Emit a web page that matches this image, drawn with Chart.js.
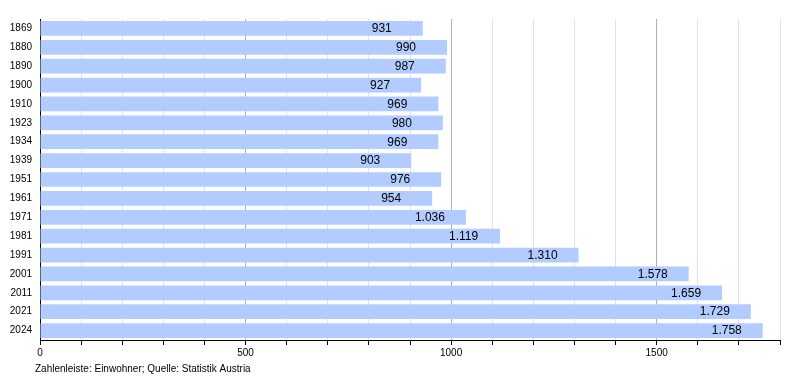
<!DOCTYPE html>
<html>
<head>
<meta charset="utf-8">
<script src="https://cdn.jsdelivr.net/npm/chart.js@4/dist/chart.umd.min.js"></script>
<style>
html,body{margin:0;padding:0;background:#fff;}
#wrap{width:800px;height:380px;position:relative;}
</style>
</head>
<body>
<div id="wrap"><canvas id="c" width="800" height="380"></canvas></div>
<script>
const years = ["1869","1880","1890","1900","1910","1923","1934","1939","1951","1961","1971","1981","1991","2001","2011","2021","2024"];
const population = [931,990,987,927,969,980,969,903,976,954,1036,1119,1310,1578,1659,1729,1758];
const xMin = 0, xMax = 1800, xStep = 100, xLabelStep = 500;
const caption = "Zahlenleiste: Einwohner; Quelle: Statistik Austria";

const FONT = "'Liberation Sans', Arial, sans-serif";

function fmtDE(v){
  return String(v).replace(/\B(?=(\d{3})+(?!\d))/g, ".");
}

const labelPlugin = {
  id: 'valueLabels',
  afterDatasetsDraw(chart){
    const ctx = chart.ctx;
    const meta = chart.getDatasetMeta(0);
    ctx.save();
    ctx.font = "12px " + FONT;
    ctx.fillStyle = "#000";
    ctx.textAlign = "left";
    ctx.textBaseline = "middle";
    meta.data.forEach((el, i) => {
      ctx.fillText(fmtDE(population[i]), el.x - 51, el.y + 0.5);
    });
    ctx.restore();
  }
};

const captionPlugin = {
  id: 'caption',
  afterDraw(chart){
    const ctx = chart.ctx;
    ctx.save();
    ctx.font = "10px " + FONT;
    ctx.fillStyle = "#000";
    ctx.textAlign = "left";
    ctx.textBaseline = "middle";
    ctx.fillText(caption, 35, 369);
    ctx.restore();
  }
};

new Chart(document.getElementById('c'), {
  type: 'bar',
  data: {
    labels: years,
    datasets: [{
      data: population,
      backgroundColor: '#b3ccff',
      borderWidth: 0,
      barPercentage: 0.78,
      categoryPercentage: 1.0
    }]
  },
  options: {
    indexAxis: 'y',
    responsive: false,
    animation: false,
    devicePixelRatio: 1,
    layout: { padding: { left: 0, right: 20, top: 19, bottom: 20 } },
    plugins: { legend: { display: false }, tooltip: { enabled: false } },
    scales: {
      x: {
        type: 'linear',
        min: xMin, max: xMax,
        afterFit(scale){ scale.height = 20; },
        ticks: {
          stepSize: xStep,
          autoSkip: false,
          maxRotation: 0,
          padding: 2,
          color: '#000',
          font: { family: FONT, size: 10 },
          callback: (v) => (v % xLabelStep === 0 ? String(v) : '')
        },
        grid: {
          drawOnChartArea: true,
          drawTicks: true,
          tickLength: 5,
          tickColor: '#000',
          color: (c) => (c.tick && c.tick.value % xLabelStep === 0 ? '#b0b0b0' : '#e2e2e2'),
          lineWidth: 1
        },
        border: { display: true, color: '#000', width: 1 }
      },
      y: {
        type: 'category',
        afterFit(scale){ scale.width = 40; },
        ticks: {
          color: '#000',
          padding: 8,
          font: { family: FONT, size: 10 }
        },
        grid: { display: false, drawTicks: false },
        border: { display: true, color: '#000', width: 1 }
      }
    }
  },
  plugins: [labelPlugin, captionPlugin]
});
</script>
</body>
</html>
